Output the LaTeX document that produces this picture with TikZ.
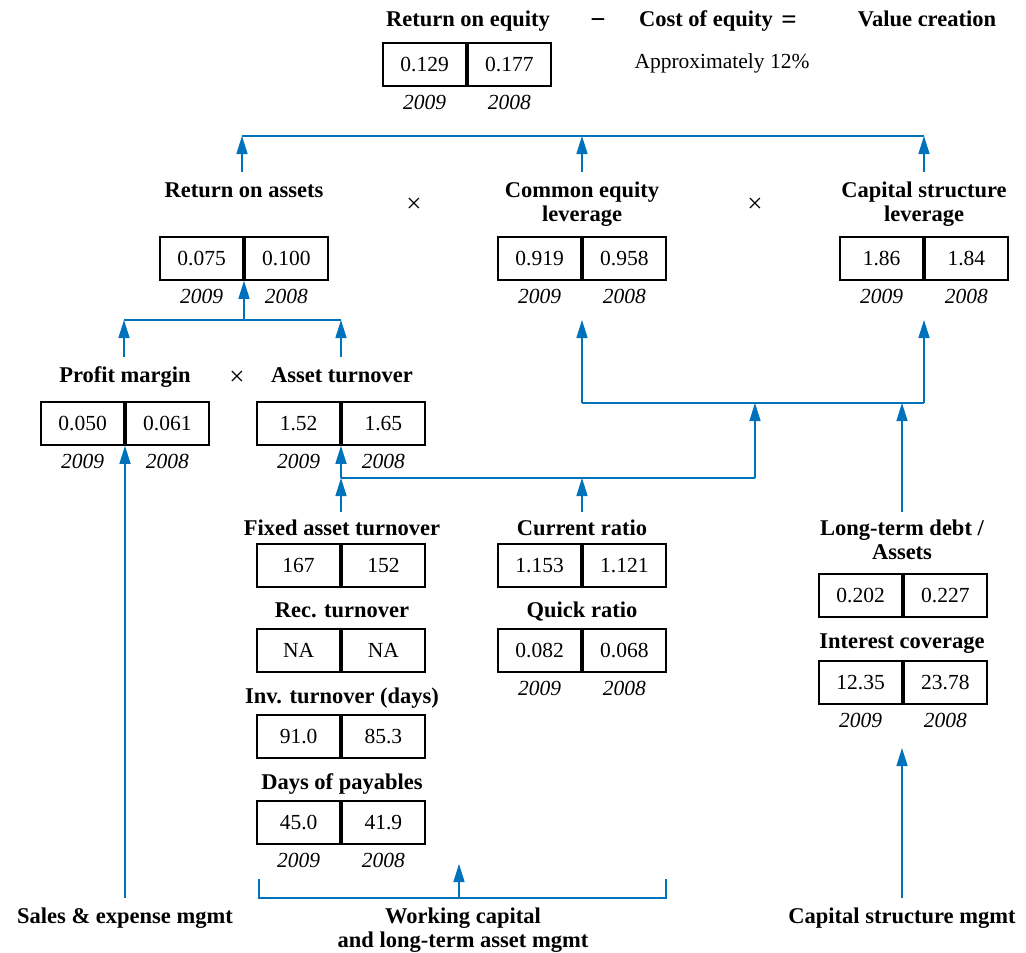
\documentclass[tikz,border=0pt]{standalone}
\usepackage{fontspec}
\setmainfont{Liberation Serif}
\usetikzlibrary{arrows.meta}
\definecolor{lnblue}{RGB}{0,114,188}
\tikzset{
 cell/.style={draw=black, line width=1.8pt, minimum width=83pt, minimum height=43pt, inner sep=0pt, font=\fontsize{21.5}{24}\selectfont},
 lbl/.style={anchor=base, inner sep=0pt, font=\fontsize{22.5}{26}\selectfont\bfseries},
 yr/.style={anchor=base, inner sep=0pt, font=\fontsize{21.5}{24}\selectfont\itshape},
 txt/.style={anchor=base, inner sep=0pt, font=\fontsize{21.5}{24}\selectfont},
 op/.style={inner sep=0pt, font=\fontsize{27}{30}\selectfont},
 bigop/.style={anchor=base, inner sep=0pt, font=\fontsize{27}{30}\selectfont\bfseries},
 conn/.style={draw=lnblue, line width=1.5pt},
 arr/.style={conn, -{Triangle[length=18pt,width=11pt]}},
}
\newcommand\pairbox[5]{%
 \node[cell, anchor=north east] (#1-a) at (#2,#3) {#4};
 \node[cell, anchor=north west] (#1-b) at (#2,#3) {#5};}
\newcommand\yearpair[1]{%
 \path (#1-a.south) ++(0,23) node[yr] (#1-y9) {2009};
 \path (#1-b.south) ++(0,23) node[yr] (#1-y8) {2008};}
\begin{document}
\begin{tikzpicture}[x=1pt,y=-1pt]
\useasboundingbox (0,0) rectangle (1026,953);
% title row
\node[lbl] (roe) at (468,27) {Return on equity};
\node[bigop] (minus) at (598,28) {−};
\node[lbl] (coe) at (706,27) {Cost of equity};
\node[bigop] (eq) at (789,28) {=};
\node[lbl] (vc) at (927,27) {Value creation};
\pairbox{roeb}{467}{42}{0.129}{0.177}
\yearpair{roeb}
\node[txt] (approx) at (722,68) {Approximately 12\%};
% top connector
\coordinate (t1) at (242,136);
\coordinate (t2) at (582,136);
\coordinate (t3) at (924,136);
\coordinate (s1) at (242,172);
\coordinate (s2) at (582,172);
\coordinate (s3) at (924,172);
\draw[conn] (t1) -- (t3);
\draw[arr] (s1) -- (t1);
\draw[arr] (s2) -- (t2);
\draw[arr] (s3) -- (t3);
% row 2
\node[lbl] (roa) at (244,197) {Return on assets};
\node[lbl] (cel1) at (582,197) {Common equity};
\node[lbl] (cel2) at (582,221) {leverage};
\node[lbl] (csl1) at (924,197) {Capital structure};
\node[lbl] (csl2) at (924,221) {leverage};
\node[op] (x1) at (414,205) {×};
\node[op] (x2) at (755,205) {×};
\pairbox{roab}{244}{236}{0.075}{0.100}
\pairbox{celb}{582}{236}{0.919}{0.958}
\pairbox{cslb}{924}{236}{1.86}{1.84}
\yearpair{roab}
\yearpair{celb}
\yearpair{cslb}
% row 3 connectors
\coordinate (r1) at (124,320);
\coordinate (r2) at (244,320);
\coordinate (r3) at (341,320);
\coordinate (q1) at (124,357);
\coordinate (q3) at (341,357);
\draw[conn] (r1) -- (r3);
\draw[arr] (r2) -- (roab-a.south east);
\draw[arr] (q1) -- (r1);
\draw[arr] (q3) -- (r3);
% row 3
\node[lbl] (pm) at (125,382) {Profit margin};
\node[lbl] (at) at (342,382) {Asset turnover};
\node[op] (x3) at (237,378) {×};
\pairbox{pmb}{125}{401}{0.050}{0.061}
\pairbox{atb}{341}{401}{1.52}{1.65}
\yearpair{pmb}
\yearpair{atb}
% row 4 connectors
\coordinate (u1) at (341,478);
\coordinate (u2) at (582,478);
\coordinate (u3) at (755,478);
\coordinate (v1) at (341,512);
\coordinate (v2) at (582,512);
\coordinate (w1) at (582,403);
\coordinate (w2) at (755,403);
\coordinate (w3) at (902,403);
\coordinate (w4) at (924,403);
\coordinate (c1) at (582,320);
\coordinate (c2) at (924,320);
\coordinate (z) at (902,512);
\draw[arr] (u1) -- (atb-a.south east);
\draw[conn] (u1) -- (u3);
\draw[arr] (v1) -- (u1);
\draw[arr] (v2) -- (u2);
\draw[conn] (w1) -- (w4);
\draw[arr] (w1) -- (c1);
\draw[arr] (w4) -- (c2);
\draw[arr] (u3) -- (w2);
\draw[arr] (z) -- (w3);
% left column
\node[lbl] (fat) at (342,535) {Fixed asset turnover};
\pairbox{fatb}{341}{543}{167}{152}
\node[lbl] (rec) at (342,617) {Rec. turnover};
\pairbox{recb}{341}{628}{NA}{NA}
\node[lbl] (inv) at (342,703) {Inv. turnover (days)};
\pairbox{invb}{341}{714}{91.0}{85.3}
\node[lbl] (dop) at (342,789) {Days of payables};
\pairbox{dopb}{341}{800}{45.0}{41.9}
\yearpair{dopb}
% middle column
\node[lbl] (cr) at (582,535) {Current ratio};
\pairbox{crb}{582}{543}{1.153}{1.121}
\node[lbl] (qr) at (582,617) {Quick ratio};
\pairbox{qrb}{582}{628}{0.082}{0.068}
\yearpair{qrb}
% right column
\node[lbl] (ltd1) at (902,535) {Long-term debt /};
\node[lbl] (ltd2) at (902,559) {Assets};
\pairbox{ltdb}{903}{573}{0.202}{0.227}
\node[lbl] (ic) at (902,648) {Interest coverage};
\pairbox{icb}{903}{660}{12.35}{23.78}
\yearpair{icb}
% bottom
\node[lbl] (sem) at (125,923) {Sales \& expense mgmt};
\node[lbl] (wc1) at (463,923) {Working capital};
\node[lbl] (wc2) at (463,947) {and long-term asset mgmt};
\node[lbl] (csm) at (902,923) {Capital structure mgmt};
\coordinate (b1) at (125,898);
\coordinate (bl) at (259,879);
\coordinate (blb) at (259,898);
\coordinate (br) at (666,879);
\coordinate (brb) at (666,898);
\coordinate (bm) at (459,898);
\coordinate (bmt) at (459,864);
\coordinate (cs) at (902,898);
\coordinate (cst) at (902,748);
\draw[arr] (b1) -- (pmb-a.south east);
\draw[conn] (bl) -- (blb) -- (brb) -- (br);
\draw[arr] (bm) -- (bmt);
\draw[arr] (cs) -- (cst);
\end{tikzpicture}
\end{document}
